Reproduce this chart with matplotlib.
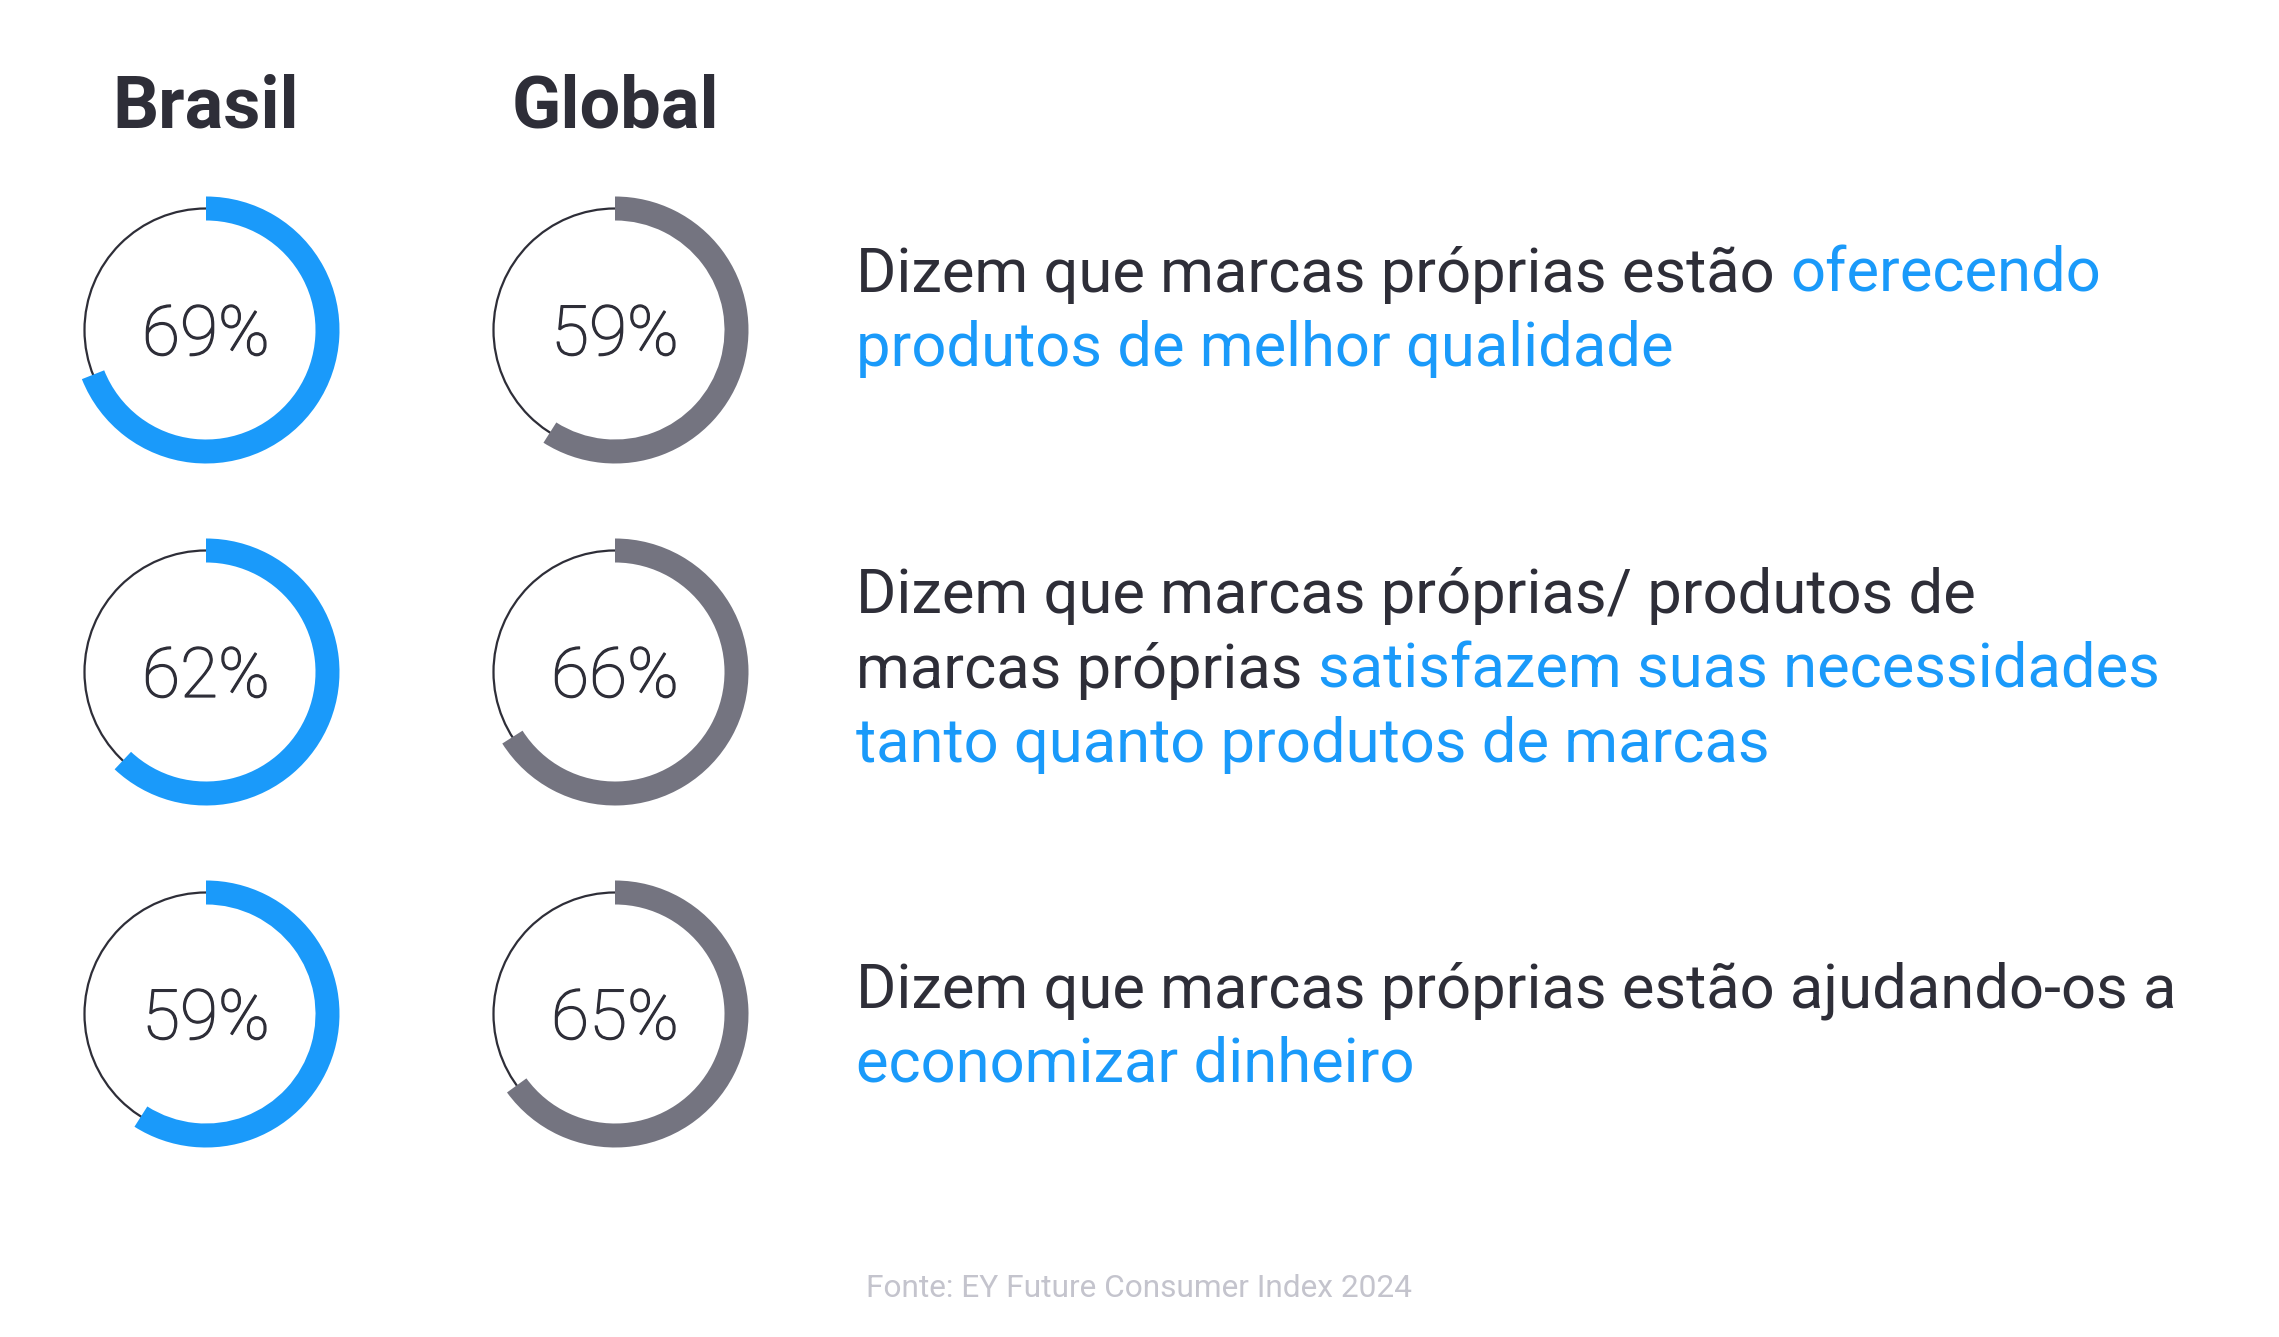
import matplotlib
matplotlib.use("Agg")
import matplotlib.pyplot as plt
import matplotlib.patheffects as pe
from matplotlib.patches import Wedge, Circle
from matplotlib.transforms import offset_copy

W, H = 2279, 1337

# data
groups = ["Brasil", "Global"]
brasil = [69, 62, 59]
global_ = [59, 66, 65]

statements = [
    [[("Dizem que marcas próprias estão ", "dark"), ("oferecendo", "blue")],
     [("produtos de melhor qualidade", "blue")]],
    [[("Dizem que marcas próprias/ produtos de", "dark")],
     [("marcas próprias ", "dark"), ("satisfazem suas necessidades", "blue")],
     [("tanto quanto produtos de marcas", "blue")]],
    [[("Dizem que marcas próprias estão ajudando-os a", "dark")],
     [("economizar dinheiro", "blue")]],
]
source = "Fonte: EY Future Consumer Index 2024"

colors = {"dark": "#2e2e38", "blue": "#1a9afa", "grey": "#747480"}
ring_colors = ["#1a9afa", "#747480"]

plt.rcParams["font.family"] = ["Roboto", "DejaVu Sans"]

fig = plt.figure(figsize=(W / 100, H / 100), dpi=100)
ax = fig.add_axes([0, 0, 1, 1])
ax.set_xlim(0, W)
ax.set_ylim(0, H)
ax.axis("off")

col_x = [206, 615]
row_y = [330, 672, 1014]
r_out = 133.5
ring_w = 24
r_thin = r_out - ring_w / 2

# headers
for cx, g in zip(col_x, groups):
    ax.text(cx, H - 128, g, fontsize=52, fontweight="bold", color=colors["dark"],
            ha="center", va="baseline")

# donuts
for j, vals in enumerate([brasil, global_]):
    for i, v in enumerate(vals):
        cx, cy = col_x[j], H - row_y[i]
        ax.add_patch(Circle((cx, cy), r_thin, fill=False, lw=1.6,
                            edgecolor=colors["dark"], zorder=1))
        ax.add_patch(Wedge((cx, cy), r_out, 90 - 3.6 * v, 90, width=ring_w,
                           facecolor=ring_colors[j], edgecolor="none", zorder=2))
        ax.text(cx, cy - 25, f"{v}%", fontsize=50, fontweight="light",
                color=colors["dark"], ha="center", va="baseline", zorder=3,
                path_effects=[pe.withStroke(linewidth=0.9, foreground=colors["dark"])])

# statements
text_x = 856
baselines = [[292, 366], [613, 688, 762], [1007, 1081]]
renderer = fig.canvas.get_renderer()
for lines, ys in zip(statements, baselines):
    for segs, y in zip(lines, ys):
        off = 0
        for s, c in segs:
            tr = offset_copy(ax.transData, fig=fig, x=off, y=0, units="dots")
            t = ax.text(text_x, H - y, s, fontsize=44.3, color=colors[c],
                        ha="left", va="baseline", transform=tr)
            off += t.get_window_extent(renderer).width

ax.text(1139, H - 1297, source, fontsize=22.8, color="#c4c4cd",
        ha="center", va="baseline")

fig.savefig("out.png", dpi=100, facecolor="white")
